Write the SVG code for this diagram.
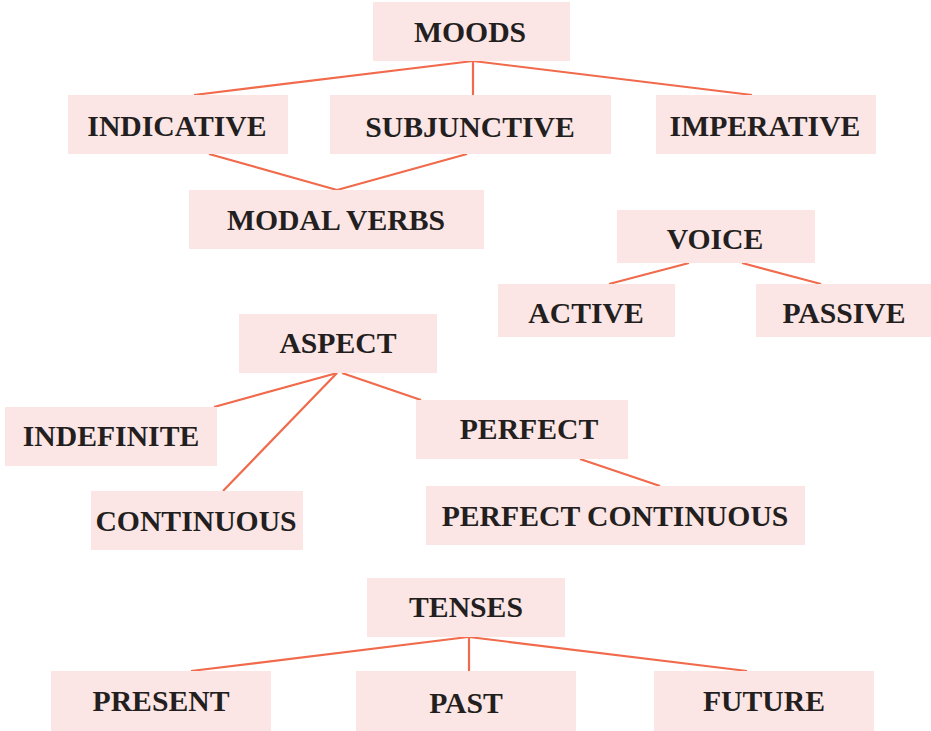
<svg xmlns="http://www.w3.org/2000/svg" width="931" height="731" viewBox="0 0 931 731">
<style>
.box{fill:#fce5e5}
.lbl{font-family:"Liberation Serif","Times New Roman",serif;font-weight:bold;font-size:29.7px;fill:#231f20;text-anchor:middle}
.con line{stroke:#f06a4b;stroke-width:2.2;fill:none}
</style>
<rect width="931" height="731" fill="#ffffff"/>
<g id="connectors" class="con">
<line x1="473" y1="61" x2="194" y2="95"/>
<line x1="473" y1="61" x2="473" y2="95"/>
<line x1="473" y1="61" x2="752" y2="95"/>
<line x1="209" y1="154" x2="337" y2="190"/>
<line x1="467" y1="154" x2="337" y2="190"/>
<line x1="689" y1="263" x2="609" y2="284"/>
<line x1="742" y1="263" x2="821" y2="284"/>
<line x1="337" y1="373" x2="214" y2="407"/>
<line x1="337" y1="373" x2="223" y2="491"/>
<line x1="342" y1="373" x2="421" y2="400"/>
<line x1="580" y1="459" x2="660" y2="486"/>
<line x1="468" y1="637" x2="191" y2="671"/>
<line x1="469" y1="637" x2="469" y2="671"/>
<line x1="469" y1="637" x2="747" y2="671"/>
</g>
<g id="moods"><rect class="box" x="373" y="2" width="197" height="59"/><text class="lbl" x="470" y="42">MOODS</text></g>
<g id="indicative"><rect class="box" x="68" y="95" width="220" height="59"/><text class="lbl" x="177" y="136">INDICATIVE</text></g>
<g id="subjunctive"><rect class="box" x="330" y="95" width="281" height="59"/><text class="lbl" x="470" y="137">SUBJUNCTIVE</text></g>
<g id="imperative"><rect class="box" x="656" y="95" width="220" height="59"/><text class="lbl" x="765" y="136">IMPERATIVE</text></g>
<g id="modal-verbs"><rect class="box" x="189" y="190" width="295" height="59"/><text class="lbl" x="336" y="230">MODAL VERBS</text></g>
<g id="voice"><rect class="box" x="617" y="210" width="198" height="53"/><text class="lbl" x="715" y="249">VOICE</text></g>
<g id="active"><rect class="box" x="498" y="284" width="177" height="53"/><text class="lbl" x="586" y="323">ACTIVE</text></g>
<g id="passive"><rect class="box" x="756" y="284" width="175" height="53"/><text class="lbl" x="844" y="323">PASSIVE</text></g>
<g id="aspect"><rect class="box" x="239" y="314" width="198" height="59"/><text class="lbl" x="338" y="353">ASPECT</text></g>
<g id="indefinite"><rect class="box" x="5" y="407" width="212" height="59"/><text class="lbl" x="111" y="446">INDEFINITE</text></g>
<g id="perfect"><rect class="box" x="416" y="400" width="212" height="59"/><text class="lbl" x="529" y="439">PERFECT</text></g>
<g id="continuous"><rect class="box" x="91" y="491" width="212" height="59"/><text class="lbl" x="196" y="531">CONTINUOUS</text></g>
<g id="perfect-continuous"><rect class="box" x="426" y="486" width="379" height="59"/><text class="lbl" x="615" y="526">PERFECT CONTINUOUS</text></g>
<g id="tenses"><rect class="box" x="367" y="578" width="198" height="59"/><text class="lbl" x="466" y="617">TENSES</text></g>
<g id="present"><rect class="box" x="51" y="671" width="220" height="60"/><text class="lbl" x="161" y="711">PRESENT</text></g>
<g id="past"><rect class="box" x="356" y="671" width="220" height="60"/><text class="lbl" x="466" y="713">PAST</text></g>
<g id="future"><rect class="box" x="654" y="671" width="220" height="60"/><text class="lbl" x="764" y="711">FUTURE</text></g>
</svg>
